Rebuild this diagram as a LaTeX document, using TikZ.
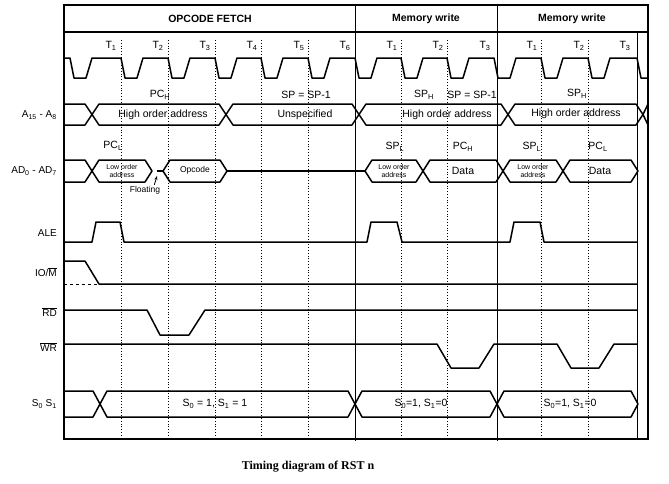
\documentclass[tikz,border=0pt]{standalone}
\usepackage{fontspec}
\setmainfont{Liberation Sans}
\newfontfamily\capfont{Liberation Serif}
\usetikzlibrary{arrows.meta}
\tikzset{
 sig/.style={line width=1.5pt, line join=round},
 gridln/.style={line width=0.8pt, dotted},
 lbl/.style={font=\fontsize{10}{10}\selectfont, anchor=east, inner sep=0pt},
 btxt/.style={font=\fontsize{10.5}{11}\selectfont, inner sep=0pt},
 smalltxt/.style={font=\fontsize{7}{7.5}\selectfont, align=center, inner sep=0pt},
 head/.style={font=\bfseries\fontsize{10.5}{11}\selectfont, inner sep=0pt}
}
\newcommand\hexbus[4]{\draw[sig] (#1,#3) -- ({#1+7},{#3-#4}) -- ({#2-7},{#3-#4}) -- (#2,#3) -- ({#2-7},{#3+#4}) -- ({#1+7},{#3+#4}) -- cycle;}
\newcommand\ts[1]{\textsubscript{#1}}
\begin{document}
\begin{tikzpicture}[x=1pt,y=-1pt]
\useasboundingbox (0,0) rectangle (669,483);
% grid
\foreach \d in {121,168,215,261,308,401,447,541,588}
  \draw[gridln] (\d,40) -- (\d,439);
\draw[line width=1pt] (355,5) -- (355,441);
\draw[line width=1pt] (497,5) -- (497,441);
\draw[line width=1pt] (637,32) -- (637,439);
\draw[line width=1.8pt] (64,5) rectangle (648,439);
\draw[line width=1.8pt] (64,32) -- (648,32);
\node[head] (h1) at (210,19) {OPCODE FETCH};
\node[head] (h2) at (426,19) {Memory write};
\node[head] (h3) at (572,19) {Memory write};
% clock
\draw[sig] (64,58) -- (70,58)
 \foreach \d/\n in {70/121,121/168,168/215,215/261,261/308,308/355,355/401,401/447,447/494,494/541,541/588,588/637}
 { -- ({\d+4},78) -- ({\d+16},78) -- ({\d+22},58) -- (\n,58) } -- (641,78) -- (648,78);
\foreach \x/\t in {111/1,158/2,205/3,252/4,299/5,345/6,392/1,438/2,485/3,532/1,579/2,625/3}
  \node[btxt] (t\x) at (\x,46) {T\ts{\t}};
% labels
\node[lbl] (la) at (57,115) {A\ts{15} - A\ts{8}};
\node[lbl] (lad) at (57,171) {AD\ts{0} - AD\ts{7}};
\node[lbl] (lale) at (57,233) {ALE};
\node[lbl] (lio) at (57,272) {IO/$\overline{\mbox{M}}$};
\node[lbl] (lrd) at (57,312) {$\overline{\mbox{RD}}$};
\node[lbl] (lwr) at (57,347) {$\overline{\mbox{WR}}$};
\node[lbl] (ls) at (57,404) {S\ts{0} S\ts{1}};
% A bus
\draw[sig] (64,104) -- (85,104) -- (92,114.5) -- (85,125) -- (64,125);
\hexbus{92}{226}{114.5}{10.5}
\hexbus{226}{359}{114.5}{10.5}
\hexbus{359}{508}{114.5}{10.5}
\hexbus{508}{643}{114.5}{10.5}
\draw[sig] (648,104) -- (643,114.5) -- (648,125);
\node[btxt] (a1) at (163,115) {High order address};
\node[btxt] (a2) at (305,115) {Unspecified};
\node[btxt] (a3) at (447,115) {High order address};
\node[btxt] (a4) at (576,114) {High order address};
\node[btxt] (pch) at (160,95) {PC\ts{H}};
\node[btxt] (sp1) at (306,95) {SP = SP-1};
\node[btxt] (sph1) at (424,95) {SP\ts{H}};
\node[btxt] (sp2) at (472,95) {SP = SP-1};
\node[btxt] (sph2) at (577,94) {SP\ts{H}};
% AD bus
\draw[sig] (64,160) -- (85,160) -- (92,171) -- (85,182) -- (64,182);
\hexbus{92}{152}{171}{11}
\draw[sig] (157,171) -- (163,171);
\hexbus{163}{227}{171}{11}
\draw[sig] (227,171) -- (365,171);
\hexbus{365}{423}{171}{11}
\hexbus{423}{503}{171}{11}
\hexbus{503}{563}{171}{11}
\hexbus{563}{638}{171}{11}
\node[smalltxt] (d1) at (122,171) {Low order\\address};
\node[btxt,font=\fontsize{8.5}{9}\selectfont] (d2) at (195,170) {Opcode};
\node[smalltxt] (d3) at (394,171) {Low order\\address};
\node[btxt] (d4) at (463,171) {Data};
\node[smalltxt] (d5) at (533,171) {Low order\\address};
\node[btxt] (d6) at (600,171) {Data};
\node[btxt] (pcl) at (113,146) {PC\ts{L}};
\node[btxt] (spl1) at (395,147) {SP\ts{L}};
\node[btxt] (pch2) at (463,147) {PC\ts{H}};
\node[btxt] (spl2) at (532,147) {SP\ts{L}};
\node[btxt] (pcl2) at (598,147) {PC\ts{L}};
\node[btxt,font=\fontsize{8.5}{9}\selectfont] (fl) at (145,190) {Floating};
\draw[-{Stealth[length=4pt]},line width=0.8pt] (fl.north east) ++(-6,-1) -- (157,176);
% ALE
\draw[sig] (64,242) -- (92,242) -- (96,222) -- (120,222) -- (124,242) -- (367,242) -- (371,222) -- (397,222) -- (402,242) -- (510,242) -- (514,222) -- (540,222) -- (544,242) -- (637,242);
% IO/M
\draw[sig] (64,261) -- (85,261) -- (99,284) -- (637,284);
\draw[line width=1pt,dashed] (64,284) -- (99,284);
% RD
\draw[sig] (64,310) -- (147,310) -- (160,335) -- (189,335) -- (205,310) -- (637,310);
% WR
\draw[sig] (64,344) -- (437,344) -- (451,368) -- (479,368) -- (494,344) -- (557,344) -- (571,368) -- (599,368) -- (614,344) -- (637,344);
% S bus
\draw[sig] (64,391) -- (93,391) -- (100,404) -- (93,417) -- (64,417);
\hexbus{100}{355}{404}{13}
\hexbus{355}{497}{404}{13}
\hexbus{497}{638}{404}{13}
\node[btxt] (s1) at (215,404) {S\ts{0} = 1, S\ts{1} = 1};
\node[btxt] (s2) at (421,404) {S\ts{0}=1, S\ts{1}=0};
\node[btxt] (s3) at (570,404) {S\ts{0}=1, S\ts{1}=0};
\node[font=\capfont\bfseries\fontsize{12}{12}\selectfont] (cap) at (308,467) {Timing diagram of RST n};
\end{tikzpicture}
\end{document}
